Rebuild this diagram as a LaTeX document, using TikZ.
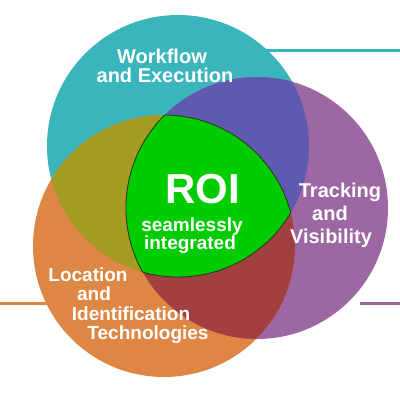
\documentclass[tikz,border=0pt]{standalone}
\usepackage{fontspec}
\setsansfont{Liberation Sans}
\usetikzlibrary{positioning}
\definecolor{flowteal}{HTML}{3AB5BC}
\definecolor{trackpurple}{HTML}{9C67A2}
\definecolor{locorange}{HTML}{DE8745}
\definecolor{tealpurple}{HTML}{5F59AF}
\definecolor{tealorange}{HTML}{A49C22}
\definecolor{purpleorange}{HTML}{A23F40}
\definecolor{roigreen}{HTML}{00CC00}
\definecolor{roirim}{HTML}{24401C}

\begin{document}
\begin{tikzpicture}[x=1pt,y=-1pt,
  label/.style={font=\sffamily\bfseries\fontsize{20}{20}\selectfont,
    text=white, inner sep=0pt, anchor=base},
  small/.style={label, font=\sffamily\bfseries\fontsize{19}{19}\selectfont},
  big/.style={label, font=\sffamily\bfseries\fontsize{42}{42}\selectfont},
  bar/.style={line width=3pt}]
\useasboundingbox (0,0) rectangle (400,400);
% centres of the three sets
\coordinate (wf) at (178,146); \coordinate (tv) at (257,208);
\coordinate (li) at (164,246);
% side bars
\coordinate (wfbar) at (250,50); \coordinate (wfend) at (400,50);
\coordinate (tvbar) at (360,303); \coordinate (tvend) at (400,303);
\coordinate (libar) at (0,303); \coordinate (liend) at (60,303);
\draw[bar, flowteal] (wfbar) -- (wfend);
\draw[bar, trackpurple] (tvbar) -- (tvend);
\draw[bar, locorange] (libar) -- (liend);
% circles
\fill[flowteal] (wf) circle (131pt);
\fill[trackpurple] (tv) circle (131pt);
\fill[locorange] (li) circle (131pt);
% overlaps
\begin{scope} \clip (wf) circle (131pt); \fill[tealpurple] (tv) circle (131pt);
\end{scope}
\begin{scope} \clip (wf) circle (131pt); \fill[tealorange] (li) circle (131pt);
\end{scope}
\begin{scope} \clip (tv) circle (131pt); \fill[purpleorange] (li) circle (131pt);
\end{scope}
% centre
\begin{scope} \clip (wf) circle (131pt); \clip (tv) circle (131pt);
\fill[roigreen] (li) circle (131pt); \draw[roirim, line width=0.9pt] (li) circle
(131pt); \end{scope}
\begin{scope} \clip (wf) circle (131pt); \clip (li) circle (131pt);
\draw[roirim, line width=0.9pt] (tv) circle (131pt); \end{scope}
\begin{scope} \clip (tv) circle (131pt); \clip (li) circle (131pt);
\draw[roirim, line width=0.9pt] (wf) circle (131pt); \end{scope}
% texts
\node (wf1) [label] at (162,63) {Workflow};
\node (wf2) [label] at (165,82) {and Execution};
\node (tv1) [label] at (340,197) {Tracking};
\node (tv2) [label] at (330,220) {and};
\node (tv3) [label] at (331,243) {Visibility};
\node (li1) [small] at (88,281) {Location};
\node (li2) [small] at (94,300) {and};
\node (li3) [small] at (131,320) {Identification};
\node (li4) [small] at (148,339) {Technologies};
\node (roi) [big] at (203,203) {ROI};
\node (roi1) [small] at (192,231) {seamlessly};
\node (roi2) [small] at (190,249) {integrated};
\end{tikzpicture}
\end{document}
